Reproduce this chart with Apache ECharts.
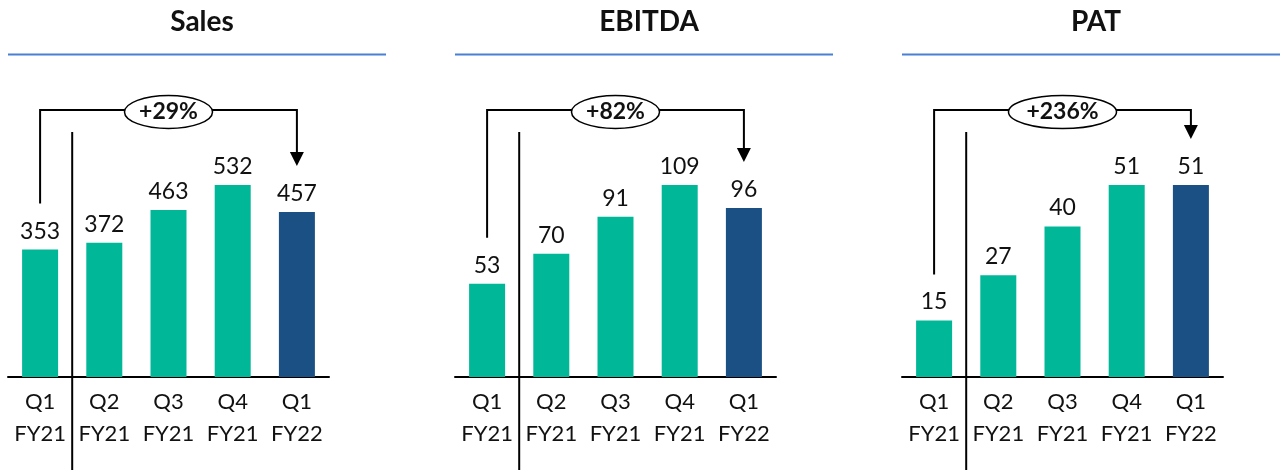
<!DOCTYPE html>
<html>
<head>
<meta charset="utf-8">
<script src="https://cdn.jsdelivr.net/npm/echarts@6/dist/echarts.min.js"></script>
<style>
  html, body { margin: 0; padding: 0; background: #fff; }
  #main { width: 1283px; height: 470px; }
</style>
</head>
<body>
<div id="main"></div>
<script>
var categories = ['Q1\nFY21', 'Q2\nFY21', 'Q3\nFY21', 'Q4\nFY21', 'Q1\nFY22'];
var sales = [353, 372, 463, 532, 457];
var ebitda = [53, 70, 91, 109, 96];
var pat = [15, 27, 40, 51, 51];
var titles = ['Sales', 'EBITDA', 'PAT'];
var growth = ['+29%', '+82%', '+236%'];

var teal = '#00B798';
var navy = '#1A5083';
var font = 'Lato, "Open Sans", sans-serif';
var lefts = [8, 455, 902];
var allData = [sales, ebitda, pat];

var myChart = echarts.init(document.getElementById('main'));

var grids = [], xAxes = [], yAxes = [], series = [], titleList = [];
for (var i = 0; i < 3; i++) {
    titleList.push({
        text: titles[i],
        left: lefts[i] + 189,
        top: 3,
        textAlign: 'center',
        textStyle: { fontFamily: font, fontWeight: 'bold', fontSize: 28, color: '#111' }
    });
    grids.push({ left: lefts[i], top: 185, width: 321, height: 192 });
    xAxes.push({
        type: 'category',
        gridIndex: i,
        data: categories,
        axisLine: { lineStyle: { color: '#000', width: 2 } },
        axisTick: { show: false },
        axisLabel: { interval: 0, fontFamily: font, fontSize: 22, lineHeight: 32, margin: 9, color: '#111' }
    });
    yAxes.push({ type: 'value', gridIndex: i, min: 0, max: 'dataMax', show: false, splitLine: { show: false } });
    series.push({
        type: 'bar',
        xAxisIndex: i,
        yAxisIndex: i,
        barWidth: 36,
        data: allData[i],
        itemStyle: {
            color: function (p) { return p.dataIndex === 4 ? navy : teal; }
        },
        label: { show: true, position: 'top', distance: 7, fontFamily: font, fontSize: 23, color: '#111' }
    });
}

option = {
    animation: false,
    title: titleList,
    grid: grids,
    xAxis: xAxes,
    yAxis: yAxes,
    series: series
};
myChart.setOption(option);

// annotations: title rules, separators, growth brackets
var graphics = [];
for (var i = 0; i < 3; i++) {
    var d = allData[i];
    var x0 = myChart.convertToPixel({ xAxisIndex: i }, 0);
    var x1 = myChart.convertToPixel({ xAxisIndex: i }, 1);
    var x4 = myChart.convertToPixel({ xAxisIndex: i }, 4);
    var y0 = myChart.convertToPixel({ yAxisIndex: i }, d[0]) - 46;
    var y4 = myChart.convertToPixel({ yAxisIndex: i }, d[4]) - 46;
    var sep = (x0 + x1) / 2;
    var yb = 110;
    var mid = (x0 + x4) / 2;
    var rx = growth[i].length * 10 + 4;

    graphics.push({
        type: 'line', shape: { x1: lefts[i], y1: 54.5, x2: lefts[i] + 378, y2: 54.5 },
        style: { stroke: '#4A7FD6', lineWidth: 2 }
    });
    graphics.push({
        type: 'line', shape: { x1: sep, y1: 132, x2: sep, y2: 470 },
        style: { stroke: '#000', lineWidth: 2 }
    });
    graphics.push({
        type: 'polyline', shape: { points: [[x0, y0], [x0, yb], [x4, yb], [x4, y4 - 13]] },
        style: { stroke: '#000', lineWidth: 2, fill: null }
    });
    graphics.push({
        type: 'polygon', shape: { points: [[x4 - 7, y4 - 14], [x4 + 7, y4 - 14], [x4, y4]] },
        style: { fill: '#000' }
    });
    graphics.push({
        type: 'ellipse', shape: { cx: mid, cy: 112, rx: rx, ry: 16.5 },
        style: { fill: '#fff', stroke: '#000', lineWidth: 1.5 }, z: 10
    });
    graphics.push({
        type: 'text', x: mid, y: 112, z: 11,
        style: { text: growth[i], align: 'center', verticalAlign: 'middle', fontFamily: font, fontWeight: 'bold', fontSize: 23, fill: '#111' }
    });
}
myChart.setOption({ graphic: graphics });
</script>
</body>
</html>
